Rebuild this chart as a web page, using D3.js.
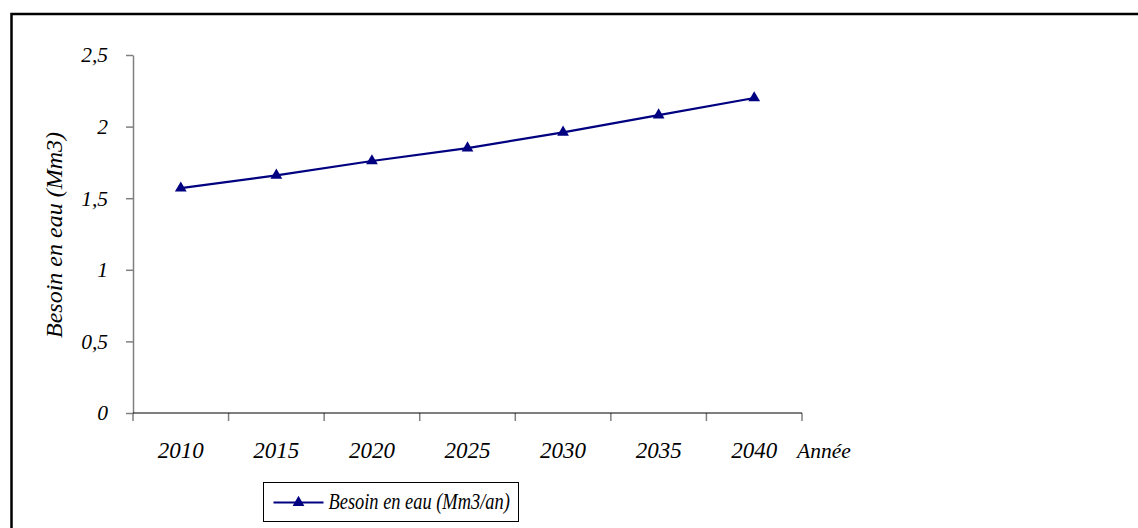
<!DOCTYPE html>
<html>
<head>
<meta charset="utf-8">
<script src="https://cdn.jsdelivr.net/npm/d3@7"></script>
<style>
  html, body { margin: 0; padding: 0; background: #fff; }
  svg { display: block; }
  text { font-family: "Liberation Serif", "Times New Roman", serif; font-style: italic; fill: #000; }
</style>
</head>
<body>
<svg id="chart" width="1138" height="528"></svg>
<script>
// Water demand projection, 2010–2040
const years = ["2010", "2015", "2020", "2025", "2030", "2035", "2040"];
const demand = [1.57, 1.66, 1.76, 1.85, 1.96, 2.08, 2.20];
const yTicks = [0, 0.5, 1, 1.5, 2, 2.5];

const yTitle = "Besoin en eau (Mm3)";
const xTitle = "Année";
const seriesName = "Besoin en eau (Mm3/an)";

const W = 1138, H = 528;
const plot = { left: 133, right: 802, top: 55, bottom: 413 };
const navy = "#000080";

const svg = d3.select("#chart");

// outer frame (only top and left edges fall inside the view)
svg.append("rect")
  .attr("x", 11.5).attr("y", 14)
  .attr("width", W + 20).attr("height", H + 20)
  .attr("fill", "none").attr("stroke", "#000").attr("stroke-width", 2.5);

const x = d3.scaleBand().domain(years).range([plot.left, plot.right]).padding(0);
const y = d3.scaleLinear().domain([0, 2.5]).range([plot.bottom, plot.top]);

const fr = d3.formatLocale({ decimal: ",", thousands: " ", grouping: [3], currency: ["", ""] });
const fmt = fr.format(".1~f");

// y axis
const gy = svg.append("g")
  .attr("transform", `translate(${plot.left},0)`)
  .call(d3.axisLeft(y).tickValues(yTicks).tickFormat(fmt).tickSizeInner(7).tickSizeOuter(0).tickPadding(18));
gy.select(".domain").attr("stroke", "#808080").attr("stroke-width", 1.5);
gy.selectAll(".tick line").attr("stroke", "#808080").attr("stroke-width", 1.5);
gy.selectAll(".tick text")
  .style("font-family", '"Liberation Serif", serif')
  .style("font-style", "italic")
  .style("font-size", "21.5px");

// x axis: labels centred in each category, ticks on category boundaries
const gx = svg.append("g")
  .attr("transform", `translate(0,${plot.bottom})`)
  .call(d3.axisBottom(x).tickSize(0).tickPadding(0));
gx.select(".domain").remove();
gx.selectAll(".tick text")
  .attr("y", 45).attr("dy", 0)
  .style("font-family", '"Liberation Serif", serif')
  .style("font-style", "italic")
  .style("font-size", "23px");

const bounds = years.map(d => x(d)).concat([x(years[years.length - 1]) + x.bandwidth()]);
gx.selectAll(".bound")
  .data(bounds)
  .join("line")
  .attr("class", "bound")
  .attr("x1", d => d).attr("x2", d => d)
  .attr("y1", 0).attr("y2", 8)
  .attr("stroke", "#808080").attr("stroke-width", 1.5);
gx.append("line")
  .attr("x1", plot.left).attr("x2", plot.right)
  .attr("y1", 0).attr("y2", 0)
  .attr("stroke", "#000").attr("stroke-width", 1.2);

svg.append("text")
  .attr("x", 797).attr("y", plot.bottom + 45)
  .style("font-size", "21.5px")
  .text(xTitle);

// y title
svg.append("text")
  .attr("transform", `translate(62,235) rotate(-90)`)
  .attr("text-anchor", "middle")
  .style("font-size", "24px")
  .text(yTitle);

// series
const cx = d => x(d) + x.bandwidth() / 2;
const line = d3.line().x((d, i) => cx(years[i])).y(d => y(d));
svg.append("path")
  .datum(demand)
  .attr("d", line)
  .attr("fill", "none")
  .attr("stroke", navy)
  .attr("stroke-width", 2.2);

const tri = d3.symbol().type(d3.symbolTriangle).size(60);
svg.selectAll(".pt")
  .data(demand)
  .join("path")
  .attr("class", "pt")
  .attr("transform", (d, i) => `translate(${cx(years[i])},${y(d)})`)
  .attr("d", tri)
  .attr("fill", navy);

// legend
const lg = svg.append("g").attr("transform", "translate(263.5,482.5)");
lg.append("rect").attr("width", 255).attr("height", 39)
  .attr("fill", "#fff").attr("stroke", "#000").attr("stroke-width", 1);
lg.append("line").attr("x1", 10).attr("x2", 60).attr("y1", 20).attr("y2", 20)
  .attr("stroke", navy).attr("stroke-width", 2);
lg.append("path").attr("transform", "translate(35,20)").attr("d", tri).attr("fill", navy);
lg.append("text")
  .attr("transform", "translate(65,26.5) scale(0.8,1)")
  .style("font-size", "23px")
  .text(seriesName);
</script>
</body>
</html>
